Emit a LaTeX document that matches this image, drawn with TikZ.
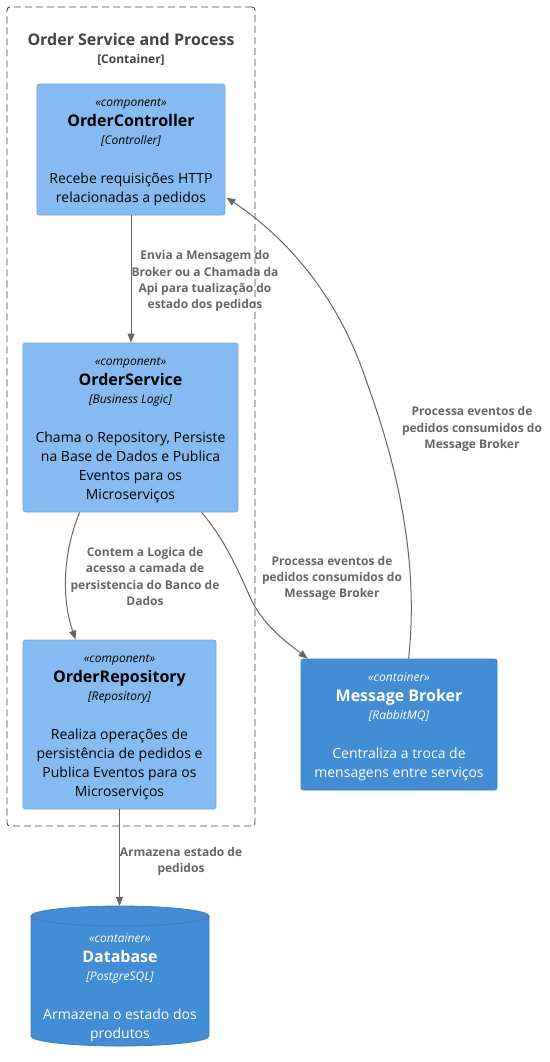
\documentclass[tikz,border=0pt]{standalone}
\usepackage{fontspec}
\setmainfont{Open Sans}
\usetikzlibrary{arrows.meta,calc}
\definecolor{compfill}{HTML}{85BBF0}
\definecolor{compline}{HTML}{78A8D8}
\definecolor{contfill}{HTML}{438DD5}
\definecolor{contline}{HTML}{3C7FC0}
\definecolor{relcol}{HTML}{666666}
\definecolor{titlecol}{HTML}{444444}
\tikzset{
  compbox/.style={draw=compline, fill=compfill, rounded corners=2.5bp, line width=0.8bp, inner sep=0},
  contbox/.style={draw=contline, fill=contfill, rounded corners=2.5bp, line width=0.8bp, inner sep=0},
  stereo/.style={anchor=base, inner sep=0, font=\fontsize{12bp}{14bp}\selectfont\itshape},
  ename/.style={anchor=base, inner sep=0, font=\fontsize{16bp}{19bp}\selectfont\bfseries},
  etech/.style={anchor=base, inner sep=0, font=\fontsize{12bp}{14bp}\selectfont\itshape},
  edesc/.style={anchor=base, inner sep=0, font=\fontsize{14bp}{19bp}\selectfont},
  rel/.style={draw=relcol, line width=1bp, -{Triangle[length=9bp,width=7bp]}},
  rlabel/.style={anchor=base, inner sep=0, text=relcol, font=\fontsize{12bp}{16bp}\selectfont\bfseries},
  boundary/.style={draw=titlecol, line width=0.9bp, dash pattern=on 7bp off 4bp, rounded corners=3bp, inner sep=0},
}
\begin{document}
\begin{tikzpicture}[x=1bp,y=-1bp]
\useasboundingbox (0,0) rectangle (550,1062);
\fill[white] (0,0) rectangle (550,1062);

% boundary
\node[boundary, minimum width=248bp, minimum height=819bp] (bnd) at (131,416.5) {};
\node[anchor=base, inner sep=0, text=titlecol, font=\fontsize{16bp}{19bp}\selectfont\bfseries] (bndt) at (131,45.5) {Order Service and Process};
\node[anchor=base, inner sep=0, text=titlecol, font=\fontsize{12bp}{14bp}\selectfont\bfseries] (bnds) at (131,63) {[Container]};

% OrderController
\node[compbox, minimum width=188bp, minimum height=131bp] (ctl) at (131,149.5) {};
\node[stereo] (ctl1) at (131,106) {«component»};
\node[ename] (ctl2) at (131,126.5) {OrderController};
\node[etech] (ctl3) at (131,144) {[Controller]};
\node[edesc] (ctl4) at (131,183) {Recebe requisições HTTP};
\node[edesc] (ctl5) at (131,202) {relacionadas a pedidos};

% OrderService
\node[compbox, minimum width=215bp, minimum height=169bp] (svc) at (130.5,427.5) {};
\node[stereo] (svc1) at (130.5,365) {«component»};
\node[ename] (svc2) at (130.5,385.5) {OrderService};
\node[etech] (svc3) at (130.5,403) {[Business Logic]};
\node[edesc] (svc4) at (130.5,442) {Chama o Repository, Persiste};
\node[edesc] (svc5) at (130.5,461) {na Base de Dados e Publica};
\node[edesc] (svc6) at (130.5,480) {Eventos para os};
\node[edesc] (svc7) at (130.5,499) {Microserviços};

% OrderRepository
\node[compbox, minimum width=193bp, minimum height=169bp] (repo) at (119.5,724.5) {};
\node[stereo] (repo1) at (119.5,662) {«component»};
\node[ename] (repo2) at (119.5,682.5) {OrderRepository};
\node[etech] (repo3) at (119.5,700) {[Repository]};
\node[edesc] (repo4) at (119.5,739) {Realiza operações de};
\node[edesc] (repo5) at (119.5,758) {persistência de pedidos e};
\node[edesc] (repo6) at (119.5,777) {Publica Eventos para os};
\node[edesc] (repo7) at (119.5,796) {Microserviços};

% Message Broker
\node[contbox, minimum width=196bp, minimum height=131bp] (brk) at (399,724.5) {};
\node[stereo, text=white] (brk1) at (399,681) {«container»};
\node[ename, text=white] (brk2) at (399,701.5) {Message Broker};
\node[etech, text=white] (brk3) at (399,719) {[RabbitMQ]};
\node[edesc, text=white] (brk4) at (399,758) {Centraliza a troca de};
\node[edesc, text=white] (brk5) at (399,777) {mensagens entre serviços};

% Database (cylinder)
\node[inner sep=0, minimum width=178bp, minimum height=140bp] (db) at (120,976) {};
\path[fill=contfill, draw=contline, line width=0.8bp]
  (31,916) -- (31,1036) arc[start angle=180, end angle=360, x radius=89bp, y radius=10bp]
  -- (209,916) arc[start angle=0, end angle=180, x radius=89bp, y radius=10bp] -- cycle;
\draw[contline, line width=0.8bp] (31,916) arc[start angle=180, end angle=360, x radius=89bp, y radius=10bp];
\node[stereo, text=white] (db1) at (120,942) {«container»};
\node[ename, text=white] (db2) at (120,962.5) {Database};
\node[etech, text=white] (db3) at (120,980) {[PostgreSQL]};
\node[edesc, text=white] (db4) at (120,1019) {Armazena o estado dos};
\node[edesc, text=white] (db5) at (120,1038) {produtos};

% connectors
\draw[rel] (ctl.south) -- (ctl.south |- svc.north);
\node[rlabel] (l11) at (205,259) {Envia a Mensagem do};
\node[rlabel] (l12) at (205,276) {Broker ou a Chamada da};
\node[rlabel] (l13) at (205,292) {Api para tualização do};
\node[rlabel] (l14) at (205,308) {estado dos pedidos};

\draw[rel] ($(svc.south west)+(57,0)$) .. controls (62,555) and (62,600) .. ($(repo.north west)+(53,0)$);
\node[rlabel] (l21) at (145,556) {Contem a Logica de};
\node[rlabel] (l22) at (145,572) {acesso a camada de};
\node[rlabel] (l23) at (145,589) {persistencia do Banco de};
\node[rlabel] (l24) at (145,605) {Dados};

\coordinate (m1) at (250,597);
\draw[rel] ($(svc.south west)+(179,0)$) .. controls (225,540) and (238,570) .. (m1)
  .. controls (262,624) and (285,641) .. ($(brk.north west)+(7,0)$);
\node[rlabel] (l31) at (332,565) {Processa eventos de};
\node[rlabel] (l32) at (332,581) {pedidos consumidos do};
\node[rlabel] (l33) at (332,597) {Message Broker};

\coordinate (m2) at (367,383);
\draw[rel] ($(brk.north west)+(108,0)$) .. controls (416,590) and (410,500) .. (m2)
  .. controls (340,300) and (290,240) .. ($(ctl.east)+(1,48)$);
\node[rlabel] (l41) at (472,415) {Processa eventos de};
\node[rlabel] (l42) at (472,432) {pedidos consumidos do};
\node[rlabel] (l43) at (472,448) {Message Broker};

\draw[rel] (repo.south) -- (repo.south |- db.north);
\node[rlabel] (l51) at (181,856) {Armazena estado de};
\node[rlabel] (l52) at (181,872) {pedidos};
\end{tikzpicture}
\end{document}
